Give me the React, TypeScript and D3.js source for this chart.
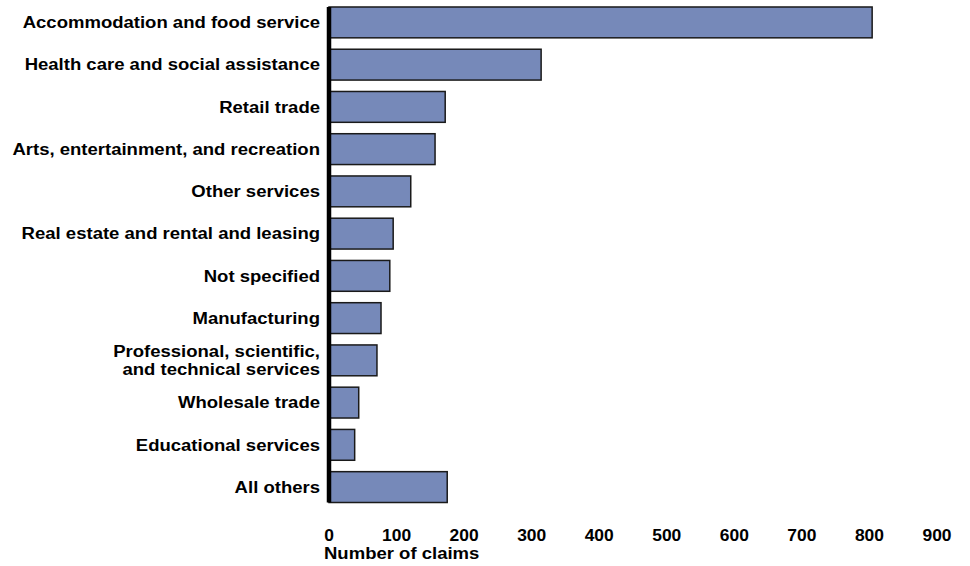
import React from "react";
import * as d3 from "d3";

const categories = [
  "Accommodation and food service",
  "Health care and social assistance",
  "Retail trade",
  "Arts, entertainment, and recreation",
  "Other services",
  "Real estate and rental and leasing",
  "Not specified",
  "Manufacturing",
  "Professional, scientific,\nand technical services",
  "Wholesale trade",
  "Educational services",
  "All others",
];
const values = [804, 314, 172, 157, 121, 95, 90, 77, 71, 44, 38, 175];
const xTicks = [0, 100, 200, 300, 400, 500, 600, 700, 800, 900];
const xTitle = "Number of claims";

const W = 970;
const H = 566;
const SX = 1.09;

export default function App() {
  const x = d3.scaleLinear().domain([0, 900]).range([329, 937]);
  const y = d3
    .scaleBand<string>()
    .domain(categories)
    .range([1.5, 508])
    .paddingInner(0.27)
    .paddingOuter(0.13);
  const font = "'Liberation Sans', Arial, sans-serif";
  const yTop = y(categories[0])!;
  const yBot = y(categories[categories.length - 1])! + y.bandwidth();
  return (
    <svg
      width={W}
      height={H}
      style={{ position: "absolute", left: 0, top: 0, background: "#fff" }}
      fontFamily={font}
    >
      {categories.map((c, i) => (
        <rect
          key={c}
          x={x(0)}
          y={y(c)}
          width={x(values[i]) - x(0)}
          height={y.bandwidth()}
          fill="#7689B9"
          stroke="#1a1a1a"
          strokeWidth={1.5}
        />
      ))}
      <line x1={x(0)} x2={x(0)} y1={yTop} y2={yBot} stroke="#000" strokeWidth={4.5} />
      {categories.map((c) => {
        const lines = c.split("\n");
        const cy = y(c)! + y.bandwidth() / 2;
        return (
          <text
            key={c}
            transform={`translate(320,${cy - ((lines.length - 1) * 18.5) / 2}) scale(${SX},1)`}
            textAnchor="end"
            dominantBaseline="central"
            fontSize={17}
            fontWeight="bold"
            fill="#000"
          >
            {lines.map((l, j) => (
              <tspan key={j} x={0} dy={j === 0 ? 0 : 18.5}>
                {l}
              </tspan>
            ))}
          </text>
        );
      })}
      {xTicks.map((t) => (
        <text
          key={t}
          transform={`translate(${x(t)},541) scale(${SX},1)`}
          textAnchor="middle"
          fontSize={16}
          fontWeight="bold"
          fill="#000"
        >
          {t}
        </text>
      ))}
      <text
        transform={`translate(324,559) scale(${SX},1)`}
        fontSize={17}
        fontWeight="bold"
        fill="#000"
      >
        {xTitle}
      </text>
    </svg>
  );
}
